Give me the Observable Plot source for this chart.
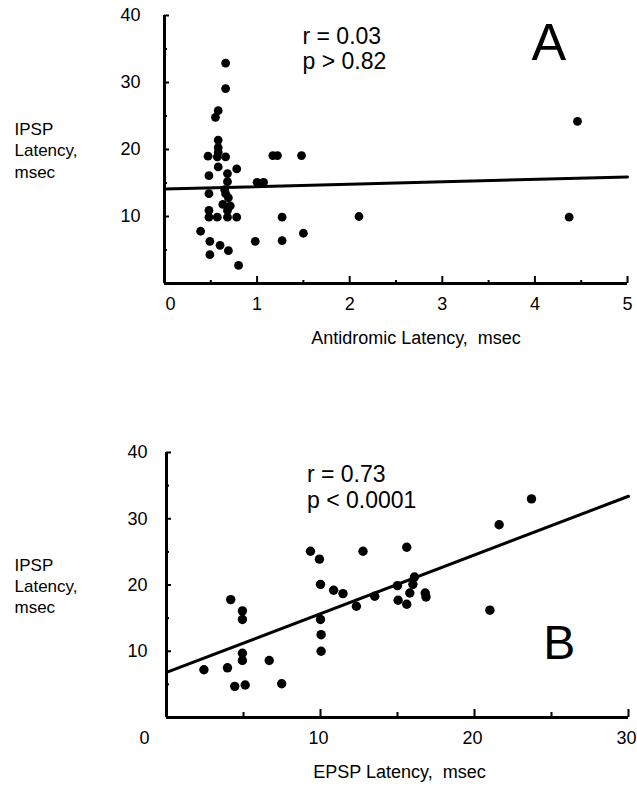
<!DOCTYPE html>
<html><head><meta charset="utf-8">
<script src="https://cdn.jsdelivr.net/npm/d3@7"></script>
<script src="https://cdn.jsdelivr.net/npm/@observablehq/plot@0.6"></script>
<style>
body{margin:0;background:#fff;}
#wrap{position:relative;width:637px;height:791px;background:#fff;}
#wrap svg{position:absolute;left:0;overflow:visible;}
</style></head><body><div id="wrap"></div>
<script>
// ---- Panel A data: antidromic latency vs IPSP latency (msec)
const antidromicLatency = [0.66,0.66,0.58,0.55,0.58,0.58,0.58,0.47,0.57,0.66,1.17,1.22,1.48,0.58,0.78,0.48,0.68,0.68,1.00,1.07,0.48,0.66,0.69,0.71,0.48,0.68,0.48,0.57,0.68,0.78,1.27,0.39,0.49,0.98,1.27,0.60,0.69,0.49,0.80,1.50,2.10,4.46,4.37,0.65,0.63];
const ipspLatencyA     = [32.9,29.1,25.8,24.8,21.4,20.3,19.6,19.0,18.9,18.9,19.1,19.1,19.1,17.4,17.1,16.1,16.4,15.2,15.1,15.1,13.4,13.4,12.8,11.6,10.9,10.9,9.9,9.9,9.9,9.9,9.9,7.8,6.3,6.3,6.4,5.7,4.9,4.3,2.7,7.5,10.0,24.2,9.9,14.0,11.8];
const fitAx = [0, 5];
const fitAy = [14.1, 15.9];
const statsA = ["r = 0.03", "p > 0.82"];

// ---- Panel B data: EPSP latency vs IPSP latency (msec)
const epspLatency  = [2.43,3.96,4.43,5.11,4.17,4.93,4.93,4.93,4.93,6.67,7.48,9.35,9.93,10.0,10.0,10.04,10.04,10.85,11.46,12.33,12.76,13.52,15.0,15.04,15.6,15.6,16.1,15.8,16.0,16.8,16.85,21.0,21.6,23.7];
const ipspLatencyB = [7.2,7.5,4.7,4.9,17.8,16.1,14.8,9.7,8.6,8.6,5.1,25.1,23.9,20.1,14.8,12.5,10.0,19.2,18.7,16.8,25.1,18.3,19.9,17.7,25.7,17.1,21.2,18.8,20.1,18.8,18.2,16.2,29.1,33.0];
const fitBx = [0, 30];
const fitBy = [6.8, 33.4];
const statsB = ["r = 0.73", "p < 0.0001"];

// ---- Axis ticks and labels
const xTickMajorA = [0,1,2,3,4,5];
const xTickMinorA = [0.5,1.5,2.5,3.5,4.5];
const xLabelsA = [1,2,3,4,5];
const yTickMajor = [10,20,30,40];
const yTickMinor = [5,15,25,35];
const yLabels = [10,20,30,40];
const xTickMajorB = [10,20,30];
const xTickMinorB = [5,15,25];
const xLabelsB = [10,20,30];
const zeroLabel = ["0"];
const yAxisTitle = "IPSP\nLatency,\nmsec";
const xTitleA = "Antidromic Latency,\u00a0 msec";
const xTitleB = "EPSP Latency,\u00a0 msec";

const FONT = '"Liberation Sans", Arial, Helvetica, sans-serif';
const wrap = document.getElementById("wrap");

function panel({xs, ys, fx, fy, xDomain, top, height, mt, mb, ml, mr, xMaj, xMin, xLab, xLabDx, xMajLen, xMinLen, yMajLen, yMinLen, yLabDx, zeroDx, stats, statX, statY, letter, letX, letY, letSize, xTitle, titleDx, r}) {
  const pts = xs.map((x, i) => ({x, y: ys[i]}));
  const fit = fx.map((x, i) => ({x, y: fy[i]}));
  const fw = 637 - ml - mr, fh = height - mt - mb;
  const p = Plot.plot({
    width: 637, height,
    marginTop: mt, marginBottom: mb, marginLeft: ml, marginRight: mr,
    style: {fontFamily: FONT, fontSize: "18px", color: "black", background: "transparent", overflow: "visible"},
    x: {domain: xDomain, axis: null},
    y: {domain: [0, 40], axis: null},
    marks: [
      Plot.tickX(xMaj, {x: d => d, insetTop: fh - xMajLen, strokeWidth: 2}),
      Plot.tickX(xMin, {x: d => d, insetTop: fh - xMinLen, strokeWidth: 2}),
      Plot.tickY(yTickMajor, {y: d => d, insetRight: fw - yMajLen, strokeWidth: 2}),
      Plot.tickY(yTickMinor, {y: d => d, insetRight: fw - yMinLen, strokeWidth: 2}),
      Plot.ruleX([xDomain[0]], {strokeWidth: 3}),
      Plot.ruleY([0], {strokeWidth: 3}),
      Plot.line(fit, {x: "x", y: "y", stroke: "black", strokeWidth: 3}),
      Plot.dot(pts, {x: "x", y: "y", r, fill: "black", stroke: "none"}),
      Plot.text(yLabels, {x: xDomain[0], y: d => d, text: d => String(d), dx: yLabDx, textAnchor: "end", fontSize: 18}),
      Plot.text(xLab, {x: d => d, y: 0, text: d => String(d), dy: 21, dx: xLabDx, fontSize: 18}),
      Plot.text(zeroLabel, {x: xDomain[0], y: 0, text: d => d, dy: 21, dx: zeroDx, fontSize: 18}),
      Plot.text([yAxisTitle], {x: xDomain[0], y: 20, text: d => d, dx: -(ml - 14), textAnchor: "start", lineHeight: 1.25, fontSize: 17}),
      Plot.text([xTitle], {frameAnchor: "bottom", text: d => d, dy: 60, dx: titleDx, fontSize: 18}),
      Plot.text([stats.join("\n")], {x: statX, y: statY, text: d => d, textAnchor: "start", lineHeight: 1.1, fontSize: 23}),
      Plot.text([letter], {x: letX, y: letY, text: d => d, fontSize: letSize})
    ]
  });
  p.style.top = top + "px";
  wrap.appendChild(p);
}

panel({xs: antidromicLatency, ys: ipspLatencyA, fx: fitAx, fy: fitAy, xDomain: [0, 5],
  top: 0, height: 380, mt: 15, mb: 97, ml: 164, mr: 10,
  xMaj: xTickMajorA, xMin: xTickMinorA, xLab: xLabelsA, xLabDx: 0, xMajLen: 7, xMinLen: 3, yMajLen: 5, yMinLen: 3,
  yLabDx: -24, zeroDx: 6, stats: statsA, statX: 1.49, statY: 35.1,
  letter: "A", letX: 4.15, letY: 35.9, letSize: 52, xTitle: xTitleA, titleDx: 20, r: 4.4});

panel({xs: epspLatency, ys: ipspLatencyB, fx: fitBx, fy: fitBy, xDomain: [0, 30],
  top: 380, height: 411, mt: 72, mb: 74, ml: 166, mr: 9,
  xMaj: xTickMajorB, xMin: xTickMinorB, xLab: xLabelsB, xLabDx: -2, xMajLen: 8, xMinLen: 5, yMajLen: 5, yMinLen: 3,
  yLabDx: -19, zeroDx: -22, stats: statsB, statX: 9.12, statY: 34.8,
  letter: "B", letX: 25.5, letY: 11.2, letSize: 48, xTitle: xTitleB, titleDx: 2, r: 4.7});
</script></body></html>
